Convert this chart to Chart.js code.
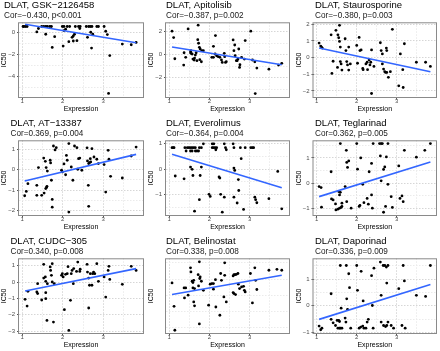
<!DOCTYPE html>
<html>
<head>
<meta charset="utf-8">
<script src="https://cdn.jsdelivr.net/npm/chart.js@4.4.1/dist/chart.umd.min.js"></script>
<style>
    body { margin: 0; background: #fff; }
    #wrap { position: relative; width: 440px; height: 351px; overflow: hidden; }
    #wrap canvas { position: absolute; }
</style>
</head>
<body>
<div id="wrap"></div>
<script>
// drug names and correlation labels, in grid order
const drugs = ['GSK−2126458', 'Apitolisib', 'Staurosporine', 'AT−13387', 'Everolimus', 'Teglarinad', 'CUDC−305', 'Belinostat', 'Daporinad'];
const corLabels = ['Cor=−0.430, p<0.001', 'Cor=−0.387, p=0.002', 'Cor=−0.380, p=0.003', 'Cor=0.369, p=0.004', 'Cor=−0.364, p=0.004', 'Cor=0.362, p=0.005', 'Cor=0.340, p=0.008', 'Cor=0.338, p=0.008', 'Cor=0.336, p=0.009'];

// [expression, IC50] pairs
const ptsGSK = [[1.02,.52],[1.04,.52],[1.08,.52],[1.12,.52],[1.36,.03],[1.40,.34],[1.48,.52],[1.53,.52],[1.58,.52],[1.62,.52],[1.68,.52],[1.72,.52],[1.58,-.18],[1.74,-1.37],[1.80,-.40],[1.99,.52],[2.03,.52],[2.11,.52],[2.17,.52],[2.03,.15],[2.07,.27],[2.01,-1.25],[2.15,-.85],[2.23,-.46],[2.26,-.34],[2.29,-.18],[2.26,-.79],[2.35,-.76],[2.31,.52],[2.39,.52],[2.43,.52],[2.42,.34],[2.58,.52],[2.64,.52],[2.68,.52],[2.72,.52],[2.61,-.46],[2.69,0],[2.71,-1.43],[2.74,-.18],[2.84,.52],[2.88,.52],[3.02,.52],[3.06,.09],[3.10,-.21],[3.16,-2.11],[3.13,-5.53],[3.47,-1.07],[3.69,-1.13],[3.81,-.92]];
const ptsApitolisib = [[1.07,2.03],[1.11,1.48],[1.14,-.35],[1.36,-.90],[1.37,.17],[1.41,-.23],[1.47,2.23],[1.53,.23],[1.54,.12],[1.57,.06],[1.54,.35],[1.59,-.38],[1.62,-.46],[1.63,-.29],[1.65,-.03],[1.67,.17],[1.69,-.52],[1.72,2.55],[1.71,1.30],[1.73,.99],[1.75,.64],[1.77,.49],[1.76,-.43],[1.80,-.61],[1.81,.35],[1.85,.35],[2.10,.72],[2.15,1.65],[2.06,-.23],[2.10,-.23],[2.18,-.09],[2.14,.06],[2.22,-.17],[2.26,-.23],[2.30,-.46],[2.32,-.67],[2.37,.12],[2.38,-.17],[2.40,-.67],[2.42,-.61],[2.59,1.28],[2.63,.84],[2.61,.35],[2.64,-.09],[2.67,-.52],[2.69,-.52],[2.71,-.38],[2.73,.49],[2.75,-1.10],[2.76,-.87],[2.80,-.23],[2.89,1.22],[2.87,-.38],[3.03,2.03],[3.07,-.46],[3.13,-.61],[3.14,-3.36],[3.18,-1.16],[3.48,-1.25],[3.72,-.90],[3.80,-.75]];
const ptsStaurosporine = [[1.06,.87],[1.10,.69],[1.12,.63],[1.14,.57],[1.36,1.37],[1.38,-.95],[1.41,-.22],[1.48,1.64],[1.53,1.37],[1.55,1.19],[1.57,1.94],[1.57,.97],[1.59,.63],[1.52,-.59],[1.59,-.24],[1.61,-.38],[1.63,-.75],[1.71,1.13],[1.73,.42],[1.75,-.24],[1.77,-.44],[1.80,.63],[1.80,-.75],[1.84,-.38],[2.00,.73],[2.06,1.21],[2.08,.42],[2.11,.46],[2.02,-.34],[2.15,-.65],[2.16,-.73],[2.23,-.38],[2.26,-.28],[2.27,-.73],[2.31,-.14],[2.33,-.44],[2.37,.46],[2.35,-.28],[2.37,-2.16],[2.43,-.53],[2.59,.89],[2.61,.42],[2.64,.22],[2.64,-.38],[2.67,-.69],[2.70,-.85],[2.72,-.89],[2.75,-.89],[2.74,.57],[2.75,.42],[2.79,-1.19],[2.84,-.85],[2.89,1.70],[3.09,.22],[3.19,.83],[3.15,-.73],[3.05,-1.70],[3.16,-1.80],[3.49,-.28],[3.72,-.28],[3.84,-.53]];
const ptsAT13387 = [[1.06,-1.28],[1.10,-1.07],[1.14,-.69],[1.36,-.77],[1.36,-1.26],[1.40,.10],[1.48,-1.26],[1.53,.57],[1.57,.41],[1.59,.10],[1.54,-1.15],[1.58,-.93],[1.60,-.87],[1.61,-.82],[1.62,-.07],[1.69,.46],[1.70,.33],[1.72,-.52],[1.74,-1.46],[1.74,-1.84],[1.77,1.16],[1.81,.97],[1.84,1.08],[1.97,-.03],[1.99,-.11],[2.03,.28],[2.07,-.25],[2.09,.70],[2.11,.46],[2.15,1.28],[2.15,-2.08],[2.21,.13],[2.25,-.52],[2.29,1.16],[2.35,1.08],[2.37,.02],[2.39,.54],[2.42,.57],[2.47,-.03],[2.60,1.07],[2.61,.43],[2.64,.30],[2.66,.34],[2.68,.54],[2.69,.38],[2.72,1.03],[2.63,-.77],[2.64,-1.80],[2.77,.62],[2.84,.51],[2.88,.30],[3.02,.25],[3.06,-1.10],[3.12,.95],[3.14,.51],[3.18,-.33],[3.47,-.41],[3.69,.67],[3.81,1.11]];
const ptsEverolimus = [[1.07,.84],[1.10,.84],[1.12,.84],[1.15,-.27],[1.37,-.38],[1.39,.84],[1.45,.84],[1.49,.84],[1.53,.84],[1.57,.84],[1.61,.84],[1.65,.84],[1.42,.71],[1.53,.71],[1.57,.71],[1.65,.71],[1.69,.71],[1.53,.08],[1.57,-.01],[1.59,-.25],[1.63,-1.65],[1.73,.71],[1.75,.84],[1.80,.84],[1.75,-1.20],[1.80,.08],[1.77,-.25],[1.85,.99],[1.99,-.99],[2.02,-1.07],[2.07,.99],[2.11,.99],[2.07,.84],[2.10,.84],[2.14,.84],[2.18,.84],[2.16,.76],[2.24,-.31],[2.26,-.35],[2.28,-.99],[2.32,-1.69],[2.37,.99],[2.37,-1.10],[2.40,.84],[2.42,.76],[2.59,.99],[2.61,.84],[2.61,-1.10],[2.61,.04],[2.63,-.05],[2.69,-1.33],[2.72,-.41],[2.73,-.84],[2.77,.84],[2.79,.41],[2.85,-1.58],[2.89,.84],[3.03,.84],[3.07,.84],[3.10,.84],[3.13,-1.10],[3.15,-1.20],[3.18,-1.32],[3.48,-1.16],[3.70,-.09],[3.80,-1.56]];
const ptsTeglarinad = [[1.06,-.14],[1.11,-.18],[1.12,-.96],[1.36,.45],[1.37,-.63],[1.41,-.67],[1.47,-.83],[1.48,-1.07],[1.53,-1.04],[1.57,-1.00],[1.61,-.97],[1.63,-.93],[1.55,-.34],[1.57,-.47],[1.59,-.37],[1.59,1.57],[1.63,-.80],[1.71,-.14],[1.74,1.30],[1.75,.82],[1.77,.62],[1.80,.88],[1.75,-.74],[1.86,-1.00],[2.00,1.57],[2.02,.55],[2.06,-.93],[2.08,-.89],[2.10,1.00],[2.15,-.05],[2.18,-.78],[2.29,-.84],[2.26,-.61],[2.31,.45],[2.37,.78],[2.37,-.47],[2.41,1.57],[2.39,-1.00],[2.57,1.57],[2.61,1.57],[2.64,1.57],[2.78,1.57],[2.59,1.08],[2.74,1.04],[2.61,.09],[2.67,.54],[2.70,.64],[2.67,-1.16],[2.72,-.93],[2.78,-.05],[2.86,-.54],[2.89,-.97],[3.05,.68],[3.08,-.61],[3.13,-.51],[3.16,-.74],[3.19,1.30],[3.49,1.03],[3.70,1.30],[3.84,1.57]];
const ptsCUDC305 = [[1.07,-1.06],[1.12,-1.47],[1.14,-.57],[1.38,-.10],[1.36,-.61],[1.38,-.71],[1.48,-1.10],[1.53,1.08],[1.53,.24],[1.57,.31],[1.58,.04],[1.58,-.65],[1.58,-1.02],[1.61,-2.35],[1.62,-.10],[1.69,.92],[1.70,.71],[1.72,.41],[1.74,1.12],[1.74,0],[1.79,-.10],[1.77,-2.45],[1.97,.41],[1.99,.51],[2.01,.31],[2.07,.47],[2.11,.51],[2.13,.94],[2.15,-2.96],[2.04,-1.69],[2.19,-1.12],[2.21,.51],[2.23,.71],[2.27,.82],[2.26,-.10],[2.34,.65],[2.37,1.22],[2.42,.65],[2.43,.78],[2.60,1.08],[2.61,.61],[2.64,.24],[2.64,-1.59],[2.66,-.20],[2.68,.51],[2.72,-.20],[2.74,.51],[2.76,.61],[2.79,.51],[2.84,1.12],[2.88,.04],[3.06,-.92],[3.02,.31],[3.12,.71],[3.14,.96],[3.16,.16],[3.47,-.14],[3.69,.96],[3.81,.71]];
const ptsBelinostat = [[1.07,.27],[1.12,-1.18],[1.14,-2.66],[1.37,-.04],[1.41,-.04],[1.38,-.66],[1.47,-.49],[1.53,1.20],[1.54,.95],[1.57,.37],[1.59,.29],[1.61,.43],[1.59,-.04],[1.63,-.08],[1.61,-.91],[1.63,-1.15],[1.72,.78],[1.75,1.57],[1.73,.08],[1.76,.54],[1.77,.64],[1.80,.37],[1.75,-2.27],[1.85,-.19],[1.98,-1.11],[2.02,.19],[2.06,.23],[2.10,.23],[2.10,-.12],[2.15,.47],[2.16,-1.22],[2.26,-1.73],[2.28,.85],[2.30,.43],[2.36,-.60],[2.38,1.51],[2.38,.74],[2.42,-.91],[2.59,.70],[2.61,.78],[2.64,.78],[2.67,.80],[2.71,.85],[2.59,-.33],[2.61,-.39],[2.65,-.45],[2.72,.19],[2.75,-.08],[2.80,.02],[2.85,.06],[2.87,-.19],[2.89,-.29],[3.02,.85],[3.07,-.97],[3.13,1.20],[3.15,.43],[3.18,-.14],[3.48,1.05],[3.68,1.11],[3.80,1.05]];
const ptsDaporinad = [[1.06,-.76],[1.10,-.90],[1.13,-.84],[1.36,.45],[1.36,-.51],[1.41,-.64],[1.47,-.74],[1.51,-.55],[1.55,-.55],[1.57,-.59],[1.53,-.84],[1.57,-.84],[1.59,-.84],[1.63,-.84],[1.59,1.51],[1.61,-.09],[1.71,-.46],[1.73,-.61],[1.74,1.51],[1.75,.26],[1.77,-.14],[1.80,1.20],[1.82,.68],[1.85,-.84],[2.00,1.51],[2.02,.58],[2.06,-.84],[2.10,-.80],[2.15,-.76],[2.18,-.84],[2.23,-.84],[2.26,-.61],[2.29,-.51],[2.11,1.29],[2.16,.18],[2.37,1.13],[2.39,.01],[2.43,1.41],[2.41,-.84],[2.59,1.64],[2.66,1.51],[2.70,1.51],[2.74,1.45],[2.78,1.51],[2.61,.39],[2.61,-.61],[2.67,-.74],[2.72,-.78],[2.75,-.74],[2.78,-.61],[2.75,.85],[2.86,-.74],[2.92,-.84],[3.05,.64],[3.13,-.74],[3.16,1.51],[3.19,.93],[3.21,-.84],[3.49,.39],[3.72,.35],[3.84,1.51]];

// fitted line end points: [x0, y0, x1, y1]
const fitLines = [[1.07,.73,3.81,-.95],[1.07,.67,3.80,-.87],[1.06,.57,3.84,-.85],[1.06,-.56,3.81,.75],[1.07,.58,3.80,-.73],[1.06,-.54,3.84,.84],[1.07,-.55,3.81,.82],[1.07,-.45,3.80,.74],[1.06,-.51,3.84,.80]];

const xTicks = [1, 2, 3];
const xRange = [0.92, 3.98];
const yTicks = [[-4,-2,0],[-2,0,2],[-2,-1,0,1,2],[-2,-1,0,1],[-1,0,1],[-1,0,1],[-3,-2,-1,0,1],[-2,-1,0,1],[-1,0,1]];
const yRanges = [[-5.9,.9],[-3.7,2.8],[-2.4,2.12],[-2.25,1.44],[-1.82,1.13],[-1.29,1.7],[-3.15,1.45],[-2.86,1.79],[-1.04,1.78]];

const panelPoints = [ptsGSK, ptsApitolisib, ptsStaurosporine, ptsAT13387, ptsEverolimus, ptsTeglarinad, ptsCUDC305, ptsBelinostat, ptsDaporinad];

const FONT = '"Liberation Sans", Arial, sans-serif';
const colLeft = [0, 147, 293];
const colWidth = [147, 146, 147];
const rowTop = [-2, 116, 234];
const yAxisWidth = [19, 19, 20.5];
const titleX = [[4, 10.5, 10.5], [19, 19, 19], [22, 22, 22]];

// major ticks plus half-way minor ticks (minor ones get no label)
function ticksWithMinor(major, min, max) {
    const step = major.length > 1 ? major[1] - major[0] : 1;
    const out = [];
    for (let v = major[0] - step; v <= major[major.length - 1] + step + 1e-9; v += step / 2) {
        const val = Math.round(v * 1000) / 1000;
        if (val < min || val > max) continue;
        const isMajor = major.some((m) => Math.abs(m - val) < 1e-6);
        out.push({ value: val, minor: !isMajor });
    }
    return out;
}

const fmt = (v) => String(v).replace('-', '−');

const panelDecor = {
    id: 'panelDecor',
    afterDraw(chart, args, opts) {
        const { ctx, chartArea: a } = chart;
        ctx.save();
        ctx.strokeStyle = '#8a8a8a';
        ctx.lineWidth = 1;
        ctx.strokeRect(a.left - 0.5, a.top + 0.5, a.right - a.left + 1, a.bottom - a.top - 0.5);
        ctx.fillStyle = '#000';
        ctx.textBaseline = 'alphabetic';
        ctx.textAlign = 'left';
        ctx.font = '9.5px ' + FONT;
        ctx.fillText(opts.title, opts.x, 10);
        ctx.font = '8.2px ' + FONT;
        ctx.fillStyle = '#1a1a1a';
        ctx.fillText(opts.sub, opts.x, 19.5);
        ctx.restore();
    }
};

function gridColor(major, minor) {
    return (ctx) => (ctx.tick && ctx.tick.minor ? minor : major);
}

function makePanel(i) {
    const col = i % 3;
    const row = Math.floor(i / 3);
    const canvas = document.createElement('canvas');
    canvas.width = colWidth[col];
    canvas.height = 118;
    canvas.style.left = colLeft[col] + 'px';
    canvas.style.top = rowTop[row] + 'px';
    document.getElementById('wrap').appendChild(canvas);

    const pts = panelPoints[i];
    const f = fitLines[i];
    const [yMin, yMax] = yRanges[i];

    new Chart(canvas, {
        type: 'scatter',
        data: {
            datasets: [
                {
                    data: pts.map(([x, y]) => ({ x, y })),
                    backgroundColor: '#000',
                    borderWidth: 0,
                    pointRadius: 1.4,
                    order: 1
                },
                {
                    type: 'line',
                    data: [{ x: f[0], y: f[1] }, { x: f[2], y: f[3] }],
                    borderColor: '#3366ff',
                    borderWidth: 1.6,
                    pointRadius: 0,
                    fill: false,
                    order: 0
                }
            ]
        },
        options: {
            responsive: false,
            animation: false,
            events: [],
            layout: { padding: { left: 0, right: 3, top: 24.3, bottom: 0 } },
            plugins: {
                legend: { display: false },
                tooltip: { enabled: false },
                panelDecor: { title: 'DLAT, ' + drugs[i], sub: corLabels[i], x: titleX[col][row] }
            },
            scales: {
                x: {
                    type: 'linear',
                    min: xRange[0],
                    max: xRange[1],
                    afterBuildTicks: (s) => { s.ticks = ticksWithMinor(xTicks, xRange[0], xRange[1]); },
                    afterFit: (s) => { s.height = 18.5; },
                    ticks: {
                        font: { size: 6, family: FONT },
                        color: '#4d4d4d',
                        padding: -2,
                        maxRotation: 0,
                        callback: (v, idx, arr) => (arr[idx].minor ? '' : fmt(v))
                    },
                    grid: {
                        color: gridColor('#d6d6d6', '#ebebeb'),
                        tickColor: (ctx) => (ctx.tick && ctx.tick.minor ? 'rgba(0,0,0,0)' : '#555'),
                        tickLength: 2,
                        tickBorderDash: []
                    },
                    border: { display: false, dash: [1.5, 1.5] },
                    title: { display: true, text: 'Expression', color: '#000', font: { size: 7, family: FONT }, padding: { top: 0, bottom: 2.8 } }
                },
                y: {
                    type: 'linear',
                    min: yMin,
                    max: yMax,
                    afterBuildTicks: (s) => { s.ticks = ticksWithMinor(yTicks[i], yMin, yMax); },
                    afterFit: (s) => { s.width = yAxisWidth[col]; },
                    ticks: {
                        font: { size: 6, family: FONT },
                        color: '#4d4d4d',
                        padding: 2,
                        callback: (v, idx, arr) => (arr[idx].minor ? '' : fmt(v))
                    },
                    grid: {
                        color: gridColor('#d6d6d6', '#ebebeb'),
                        tickColor: (ctx) => (ctx.tick && ctx.tick.minor ? 'rgba(0,0,0,0)' : '#555'),
                        tickLength: 2,
                        tickBorderDash: []
                    },
                    border: { display: false, dash: [1.5, 1.5] },
                    title: { display: true, text: 'IC50', color: '#000', font: { size: 7, family: FONT }, padding: { top: col === 2 ? 1.5 : 0, bottom: 0 } }
                }
            }
        },
        plugins: [panelDecor]
    });
}

for (let i = 0; i < 9; i++) makePanel(i);
</script>
</body>
</html>
